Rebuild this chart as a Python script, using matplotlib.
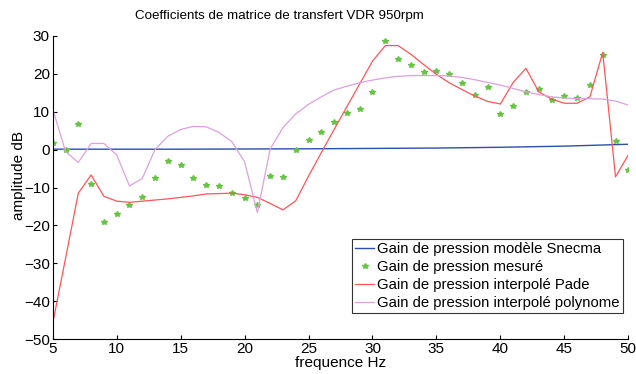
import matplotlib.pyplot as plt
import numpy as np

plt.rcParams['font.family'] = ['Liberation Sans', 'DejaVu Sans']

# frequences (Hz)
freq = list(range(5, 51))

# gain mesure (points verts)
mesure = [1.6, 0.0, 6.7, -9.1, -19.1, -16.9, -14.6, -12.4, -7.4, -3.1,
          -4.0, -7.4, -9.4, -9.6, -11.5, -12.8, -14.6, -6.9, -7.3, -0.1,
          2.4, 4.6, 7.2, 9.6, 10.6, 15.2, 28.7, 23.9, 22.2, 20.5,
          20.8, 20.0, 17.6, 14.3, 16.5, 9.3, 11.6, 15.2, 16.0, 13.0,
          14.0, 13.7, 17.0, 24.9, 2.2, -5.4]

# interpolation Pade (rouge)
pade = [-45.8, -28.7, -11.5, -6.7, -12.3, -13.6, -13.9, -13.6, -13.3, -13.0,
        -12.6, -12.2, -11.7, -11.6, -11.5, -11.9, -12.6, -14.2, -15.9, -13.5,
        -7.0, -0.8, 5.3, 11.3, 17.3, 23.3, 27.4, 27.4, 25.1, 22.4,
        19.8, 17.6, 15.8, 14.1, 12.7, 12.0, 17.7, 21.4, 15.2, 13.3,
        12.2, 12.2, 13.9, 25.6, -7.2, -1.4]

# interpolation polynome (rose)
polynome = [10.7, -0.5, -3.4, 1.6, 1.6, -1.4, -9.6, -7.6, 0.0, 3.5,
            5.3, 6.1, 6.0, 4.5, 2.1, -3.2, -16.6, 0.1, 5.8, 9.4,
            11.9, 13.9, 15.7, 16.7, 17.6, 18.3, 18.9, 19.3, 19.5, 19.5,
            19.5, 19.4, 19.0, 18.4, 17.7, 17.0, 16.1, 15.2, 14.5, 13.9,
            13.6, 13.4, 13.4, 13.3, 12.8, 11.7]

# modele Snecma (bleu)
freq_snecma = [5, 10, 15, 20, 25, 30, 35, 40, 45, 50]
snecma = [0.1, 0.1, 0.1, 0.15, 0.2, 0.3, 0.4, 0.6, 0.9, 1.4]

fig = plt.figure(figsize=(6.36, 3.74), dpi=100)
ax = fig.add_axes([0.0829, 0.0928, 0.9050, 0.8117])

ax.plot(freq_snecma, snecma, color='#2b4fb0', lw=1.0, label='Gain de pression modèle Snecma')
ax.plot(freq, mesure, '*', color='#66c444', ms=4, label='Gain de pression mesuré')
ax.plot(freq, pade, color='#ff5555', lw=0.9, label='Gain de pression interpolé Pade')
ax.plot(freq, polynome, color='#dda0dd', lw=0.9, label='Gain de pression interpolé polynome')

ax.set_xlim(5, 50)
ax.set_ylim(-50, 30)
ax.set_xticks(range(5, 51, 5))
ax.set_yticks(range(-50, 31, 10))
ax.spines['top'].set_visible(False)
ax.spines['right'].set_visible(False)
ax.tick_params(direction='in', length=3, labelsize=11, pad=2)

fig.text(0.439, 0.957, 'Coefficients de matrice de transfert VDR 950rpm',
         ha='center', va='center', fontsize=9.6)
fig.text(0.535, 0.03, 'frequence Hz', ha='center', va='center', fontsize=11)
fig.text(0.03, 0.53, 'amplitude dB', ha='center', va='center', rotation=90, fontsize=11)

leg = ax.legend(loc='upper left', bbox_to_anchor=(352 / 636, 1 - 239 / 374),
                bbox_transform=fig.transFigure, fontsize=10.7, frameon=True,
                fancybox=False, edgecolor='black', handlelength=1.3,
                handletextpad=0.2, borderpad=0.2, labelspacing=0.28,
                borderaxespad=0)
leg.get_frame().set_linewidth(0.8)

fig.savefig('out.png', dpi=100)
